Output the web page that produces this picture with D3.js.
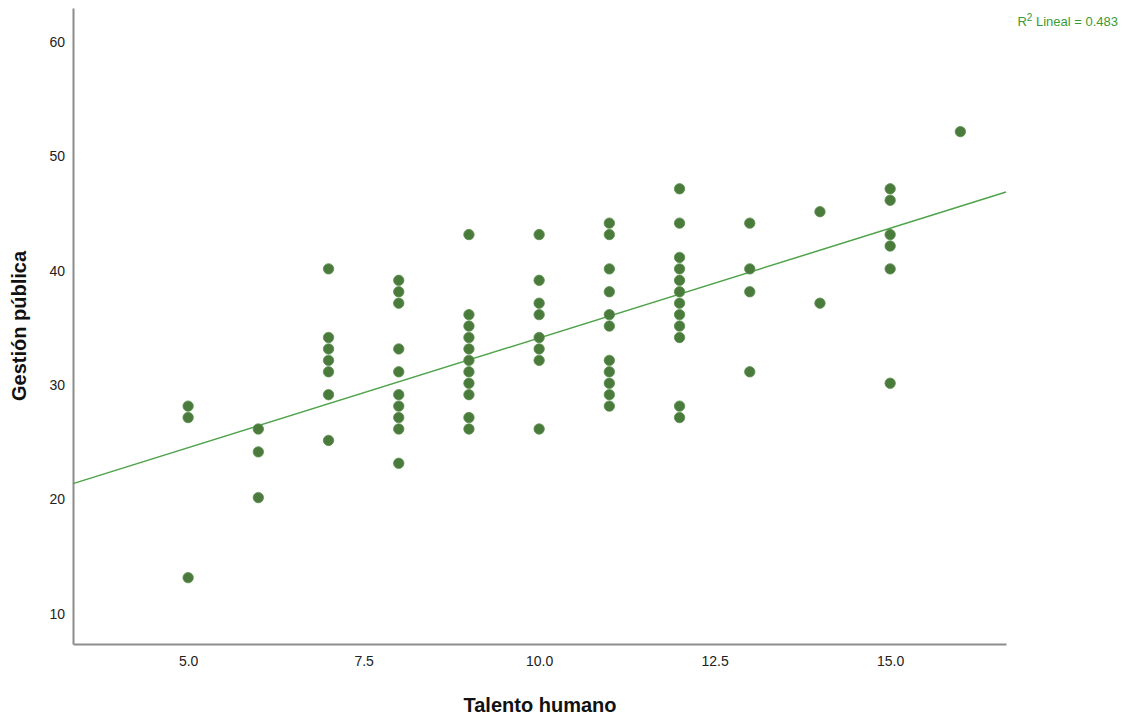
<!DOCTYPE html>
<html><head><meta charset="utf-8">
<script src="https://cdn.jsdelivr.net/npm/d3@7"></script>
<style>body{margin:0;background:#fff}svg{display:block}text{font-family:"Liberation Sans",Arial,sans-serif}</style>
</head><body>
<svg id="c" width="1126" height="718"></svg>
<script>
// Data
const talento = [5,5,5, 6,6,6, 7,7,7,7,7,7,7, 8,8,8,8,8,8,8,8,8,8,
  9,9,9,9,9,9,9,9,9,9,9, 10,10,10,10,10,10,10,10,
  11,11,11,11,11,11,11,11,11,11,11, 12,12,12,12,12,12,12,12,12,12,12,12,
  13,13,13,13, 14,14, 15,15,15,15,15,15, 16];
const gestion = [28,27,13, 26,24,20, 40,34,33,32,31,29,25, 39,38,37,33,31,29,28,27,26,23,
  43,36,35,34,33,32,31,30,29,27,26, 43,39,37,36,34,33,32,26,
  44,43,40,38,36,35,32,31,30,29,28, 47,44,41,40,39,38,37,36,35,34,28,27,
  44,40,38,31, 45,37, 47,46,43,42,40,30, 52];
const xTicks = [5, 7.5, 10, 12.5, 15];
const yTicks = [10, 20, 30, 40, 50, 60];
const fitIntercept = 14.78, fitSlope = 1.918;
const r2Label = "0.483";

const svg = d3.select("#c");
const L = 73, R = 1006, T = 8, B = 644;
const x = d3.scaleLinear().domain([3.36, 16.65]).range([L, R]);
const y = d3.scaleLinear().domain([7.2, 62.81]).range([B, T]);

// axes
const xAxis = d3.axisBottom(x).tickValues(xTicks).tickFormat(d3.format(".1f")).tickSize(0).tickPadding(12);
const yAxis = d3.axisLeft(y).tickValues(yTicks).tickFormat(d3.format("d")).tickSize(0).tickPadding(8);
const gx = svg.append("g").attr("transform", `translate(0,${B})`).call(xAxis);
const gy = svg.append("g").attr("transform", `translate(${L},0)`).call(yAxis);
[gx, gy].forEach(g => {
  g.select(".domain").attr("stroke", "#8c8c8c").attr("stroke-width", 2);
  g.selectAll("text").attr("font-size", 14).attr("fill", "#222").attr("font-family", "Liberation Sans, Arial, sans-serif");
});
gy.selectAll("text").attr("dy", "0.45em");

// regression line
const xd = x.domain();
svg.append("line")
  .attr("x1", x(xd[0])).attr("y1", y(fitIntercept + fitSlope * xd[0]))
  .attr("x2", x(xd[1])).attr("y2", y(fitIntercept + fitSlope * xd[1]))
  .attr("stroke", "#4ea34a").attr("stroke-width", 1.5);

// points
svg.append("g").selectAll("circle").data(talento.map((t, i) => [t, gestion[i]]))
  .join("circle")
  .attr("cx", d => x(d[0])).attr("cy", d => y(d[1])).attr("r", 5.2)
  .attr("fill", "#4b7a3d").attr("stroke", "#57914a").attr("stroke-width", 0.8);

// titles
svg.append("text").attr("x", 540).attr("y", 712).attr("text-anchor", "middle")
  .attr("font-size", 20).attr("font-weight", "bold").attr("fill", "#111").text("Talento humano");
svg.append("text").attr("transform", "translate(26,326) rotate(-90)").attr("text-anchor", "middle")
  .attr("font-size", 20).attr("font-weight", "bold").attr("fill", "#111").text("Gestión pública");

// R2 label
const rt = svg.append("text").attr("x", 1118).attr("y", 26).attr("text-anchor", "end")
  .attr("font-size", 13).attr("fill", "#3a9a35");
rt.append("tspan").text("R");
rt.append("tspan").attr("dy", -5).attr("font-size", 10).text("2");
rt.append("tspan").attr("dy", 5).text(" Lineal = " + r2Label);
</script>
</body></html>
